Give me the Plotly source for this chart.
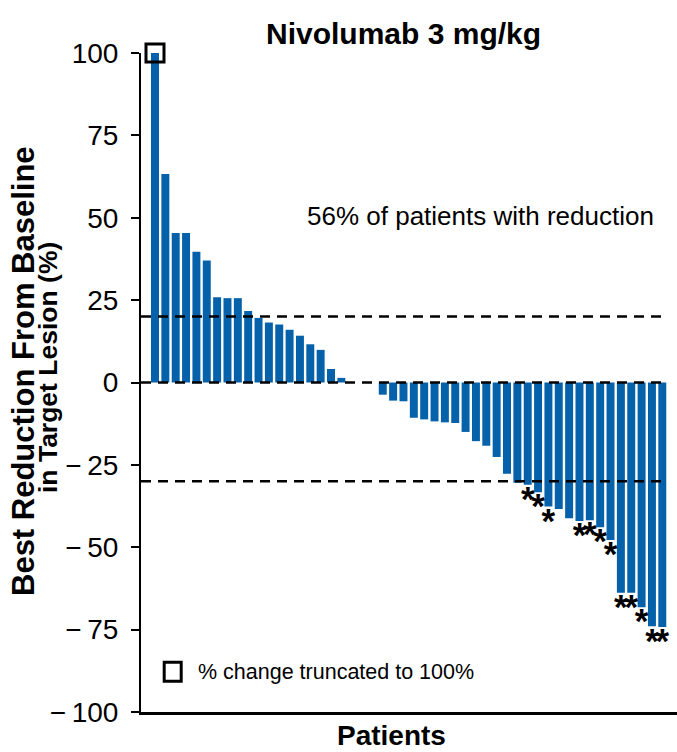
import plotly.graph_objects as go

# ---------------- data ----------------
patients = list(range(1, 51))
change_pct = [100, 63.3, 45.4, 45.4, 39.7, 37.0, 25.9, 25.6, 25.6, 21.7,
              19.6, 18.2, 17.6, 16.0, 14.2, 11.6, 9.9, 4.1, 1.4, 0,
              0, 0, -3.7, -5.5, -5.7, -10.7, -11.2, -11.8, -12.1, -12.3,
              -15.0, -17.8, -19.2, -22.6, -27.7, -30.4, -31.0, -33.3, -37.6, -38.4,
              -41.2, -42.0, -41.8, -43.9, -47.8, -63.8, -63.8, -68.2, -74.0, -74.2]
asterisk = [0] * 36 + [1, 1, 1, 0, 0, 1, 1, 1, 1, 1, 1, 1, 1, 1]
truncated = [1] + [0] * 49
ref_lines = [20, 0, -30]
y_ticks = [100, 75, 50, 25, 0, -25, -50, -75, -100]
y_ticktext = ["100", "75", "50", "25", "0",
              "\u2212\u200925", "\u2212\u200950", "\u2212\u200975", "\u2212\u2009100"]

title_text = "Nivolumab 3 mg/kg"
note_text = "56% of patients with reduction"
legend_text = "% change truncated to 100%"
x_title = "Patients"
y_title_1 = "Best Reduction From Baseline"
y_title_2 = "in Target Lesion (%)"

# ---------------- figure ----------------
FONT = "Liberation Sans, Arial, Helvetica, sans-serif"
BLUE = "#0562AA"

W, H = 677, 752
L, R, T, B = 141, 0, 53, 40
PW, PH = W - L - R, H - T - B


def px(xp):
    return (xp - L) / PW


def py(yp):
    return (H - B - yp) / PH


fig = go.Figure()

fig.add_trace(go.Bar(
    x=patients, y=change_pct, marker=dict(color=BLUE, line=dict(width=0)),
    showlegend=False, hoverinfo="x+y"))

ax = [p for p, a in zip(patients, asterisk) if a]
ay = [v for v, a in zip(change_pct, asterisk) if a]
fig.add_trace(go.Scatter(
    x=ax, y=ay, mode="text", text=["<b>*</b>"] * len(ax), textposition="bottom center",
    textfont=dict(family=FONT, size=35, color="black"), showlegend=False,
    hoverinfo="skip"))

tx = [p for p, t in zip(patients, truncated) if t]
ty = [v for v, t in zip(change_pct, truncated) if t]
fig.add_trace(go.Scatter(
    x=tx, y=ty, mode="markers",
    marker=dict(symbol="square-open", size=18, color="black",
                line=dict(width=3, color="black")),
    showlegend=False, hoverinfo="skip", cliponaxis=False))

shapes = []
for v in ref_lines:
    shapes.append(dict(type="line", xref="paper", yref="y", x0=0, x1=px(668),
                       y0=v, y1=v, layer="above",
                       line=dict(color="black", width=2.5, dash="10px,7px")))
# legend key square
shapes.append(dict(type="rect", xref="paper", yref="paper",
                   x0=px(164.2), x1=px(181.2), y0=py(681.2), y1=py(662.2),
                   line=dict(color="black", width=3), fillcolor="rgba(0,0,0,0)"))

annotations = [
    dict(text="<b>%s</b>" % title_text, x=px(403), y=py(33), xref="paper", yref="paper",
         showarrow=False, xanchor="center", yanchor="middle",
         font=dict(family=FONT, size=30, color="black")),
    dict(text=note_text, x=px(480), y=py(216), xref="paper", yref="paper",
         showarrow=False, xanchor="center", yanchor="middle",
         font=dict(family=FONT, size=26, color="black")),
    dict(text=legend_text, x=px(196), y=py(671.5), xref="paper", yref="paper",
         showarrow=False, xanchor="left", yanchor="middle",
         font=dict(family=FONT, size=21.5, color="black")),
    dict(text="<b>%s</b>" % x_title, x=px(391), y=py(735), xref="paper", yref="paper",
         showarrow=False, xanchor="center", yanchor="middle",
         font=dict(family=FONT, size=28, color="black")),
    dict(text="<b>%s</b>" % y_title_1, x=px(23), y=py(371), xref="paper", yref="paper",
         showarrow=False, xanchor="center", yanchor="middle", textangle=-90,
         font=dict(family=FONT, size=31, color="black")),
    dict(text="<b>%s</b>" % y_title_2, x=px(48), y=py(368), xref="paper", yref="paper",
         showarrow=False, xanchor="center", yanchor="middle", textangle=-90,
         font=dict(family=FONT, size=26.5, color="black")),
]

pitch = 10.353
r0 = 1 - 14 / pitch
r1 = r0 + PW / pitch

fig.update_layout(
    width=W, height=H, margin=dict(l=L, r=R, t=T, b=B),
    paper_bgcolor="white", plot_bgcolor="white",
    bargap=0.23, shapes=shapes, annotations=annotations,
    font=dict(family=FONT, color="black"),
    xaxis=dict(range=[r0, r1], showgrid=False, zeroline=False, showticklabels=False,
               ticks="", showline=True, linecolor="black", linewidth=3),
    yaxis=dict(range=[-100, 100], tickvals=y_ticks, ticktext=y_ticktext,
               showgrid=False, zeroline=False, showline=True, linecolor="black",
               linewidth=2, ticks="outside", ticklen=8, tickwidth=2, tickcolor="black",
               ticklabelstandoff=7, tickfont=dict(family=FONT, size=28, color="black")),
)

fig.write_html("out.html")
